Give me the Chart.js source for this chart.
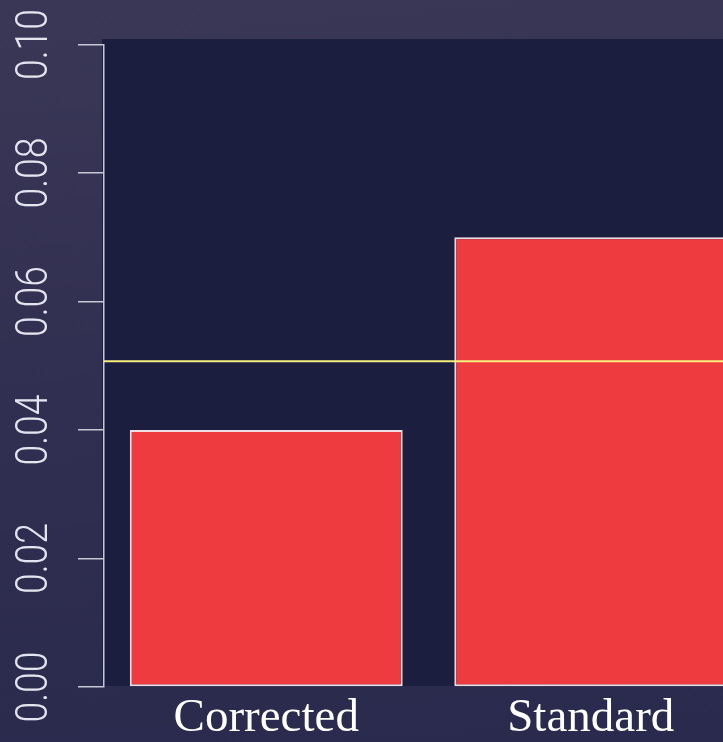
<!DOCTYPE html>
<html>
<head>
<meta charset="utf-8">
<script src="https://cdn.jsdelivr.net/npm/chart.js@4.4.1/dist/chart.umd.min.js"></script>
<style>
    html, body { margin: 0; padding: 0; overflow: hidden; }
    body { width: 723px; height: 742px; background: linear-gradient(175deg, #3a3756 0%, #312f51 50%, #292a4d 100%); }
    #wrap { position: relative; width: 760px; height: 742px; }
</style>
</head>
<body>
<div id="wrap"><canvas id="chart"></canvas></div>
<script>
'use strict';
// data
const categories = ['Corrected', 'Standard'];
const values = [0.04, 0.07];
const refLine = 0.0507;
const yTicks = [0, 0.02, 0.04, 0.06, 0.08, 0.10];
const yTickLabels = ['0.00', '0.02', '0.04', '0.06', '0.08', '0.10'];

(function(){
    const $ = s => document.querySelector(s);

    // dark panel behind the bars
    const panel = {
        id: 'panel',
        beforeDraw(chart) {
            const a = chart.chartArea, ctx = chart.ctx;
            ctx.save();
            ctx.fillStyle = '#1c1e3f';
            ctx.fillRect(a.left - 2, a.top - 5.5, chart.width, a.bottom - a.top + 4.5);
            ctx.restore();
        }
    };

    // yellow reference line
    const refPlugin = {
        id: 'ref',
        afterDatasetsDraw(chart) {
            const a = chart.chartArea, ctx = chart.ctx;
            const y = chart.scales.y.getPixelForValue(refLine);
            ctx.save();
            ctx.strokeStyle = '#f7ee7e';
            ctx.lineWidth = 2;
            ctx.beginPath();
            ctx.moveTo(a.left, y);
            ctx.lineTo(chart.width, y);
            ctx.stroke();
            ctx.restore();
        }
    };

    // rotated, thin y tick labels
    const yLabels = {
        id: 'yLabels',
        afterDraw(chart) {
            const sc = chart.scales.y, ctx = chart.ctx;
            ctx.save();
            ctx.fillStyle = '#e4e4ee';
            ctx.font = '300 44px Roboto, "Liberation Sans", sans-serif';
            ctx.textAlign = 'center';
            ctx.textBaseline = 'alphabetic';
            sc.ticks.forEach((t, i) => {
                const y = sc.getPixelForValue(t.value);
                ctx.save();
                ctx.translate(46.5, y);
                ctx.rotate(-Math.PI / 2);
                ctx.scale(0.85, 1);
                ctx.fillText(yTickLabels[i], 0, 0);
                ctx.restore();
            });
            ctx.restore();
        }
    };

    new Chart($('#chart'), {
        type: 'bar',
        data: {
            labels: categories,
            datasets: [{
                data: values,
                backgroundColor: '#ee3b40',
                borderColor: '#ebdde2',
                borderWidth: 2,
                borderSkipped: false,
                barPercentage: 1,
                categoryPercentage: 0.841
            }]
        },
        options: {
            responsive: true,
            maintainAspectRatio: false,
            animation: false,
            layout: { padding: { left: 0, top: 44.5, right: 7, bottom: 0 } },
            plugins: { legend: { display: false }, tooltip: { enabled: false } },
            scales: {
                x: {
                    grid: { display: false, drawTicks: false },
                    border: { display: false },
                    ticks: {
                        color: '#ffffff',
                        padding: 3,
                        font: { family: '"Liberation Serif", "Times New Roman", serif', size: 47 }
                    },
                    afterFit: s => { s.height = 55; }
                },
                y: {
                    min: 0,
                    max: 0.1,
                    afterBuildTicks: s => { s.ticks = yTicks.map(v => ({ value: v })); },
                    grid: { drawOnChartArea: false, tickLength: 26, color: '#c8c8d2', lineWidth: 1.5 },
                    border: { color: '#c8c8d2', width: 1.5 },
                    ticks: { display: false },
                    afterFit: s => { s.width = 104; }
                }
            }
        },
        plugins: [panel, refPlugin, yLabels]
    });
})();
</script>
</body>
</html>
